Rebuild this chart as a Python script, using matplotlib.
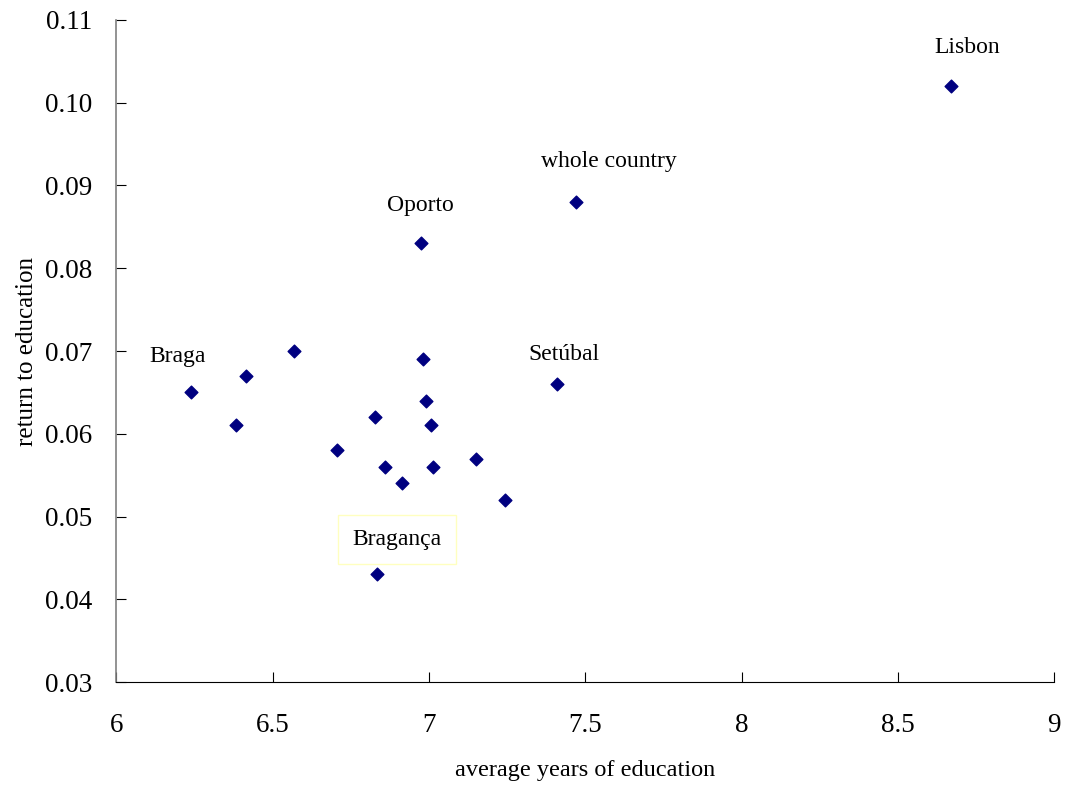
import matplotlib.pyplot as plt

plt.rcParams['font.family'] = ['Liberation Serif', 'DejaVu Serif']

# average years of education vs return to education, by district
years = [8.67, 7.47, 6.974, 6.238, 7.41, 6.833,
         6.383, 6.414, 6.569, 6.705, 6.829, 6.860, 6.914,
         6.980, 6.991, 7.008, 7.012, 7.151, 7.244]
returns = [0.102, 0.088, 0.083, 0.065, 0.066, 0.043,
           0.061, 0.067, 0.070, 0.058, 0.062, 0.056, 0.054,
           0.069, 0.064, 0.061, 0.056, 0.057, 0.052]
names = ["Lisbon", "whole country", "Oporto", "Braga", "Setúbal", "Bragança"]
# text offsets in points from the point, per labelled entry
offsets = [(11.5, 28), (24, 29), (0, 27.5), (-9.5, 25.5), (5, 21.5), (14.5, 25)]

fig = plt.figure(figsize=(10.68, 7.87), dpi=100)
ax = fig.add_axes([0.1089, 0.1334, 0.8781, 0.8412])

ax.scatter(years, returns, marker="D", s=42, color="#000080", zorder=3)

for i, name in enumerate(names):
    box = None
    if name == "Bragança":
        box = dict(boxstyle="square,pad=0.6", fc="white", ec="#ffffc0", lw=1)
    ax.annotate(name, (years[i], returns[i]), xytext=offsets[i],
                textcoords="offset points", ha="center", va="center",
                fontsize=17, bbox=box)

ax.set_xlim(6, 9)
ax.set_ylim(0.03, 0.11)
ax.set_xticks([6, 6.5, 7, 7.5, 8, 8.5, 9])
ax.set_xticklabels(["6", "6.5", "7", "7.5", "8", "8.5", "9"])
ax.set_yticks([0.03, 0.04, 0.05, 0.06, 0.07, 0.08, 0.09, 0.10, 0.11])
ax.set_yticklabels([f"{v:.2f}" for v in ax.get_yticks()])
ax.tick_params(direction="in", length=7, labelsize=19.5, pad=17)
ax.tick_params(axis="x", pad=22)

for side in ["top", "right"]:
    ax.spines[side].set_visible(False)
ax.spines["left"].set_color("#808080")
ax.spines["left"].set_linewidth(1.2)
ax.spines["bottom"].set_color("black")

ax.set_xlabel("average years of education", fontsize=17.5, labelpad=16)
ax.set_ylabel("return to education", fontsize=18, labelpad=5)

fig.savefig("out.png", dpi=100)
